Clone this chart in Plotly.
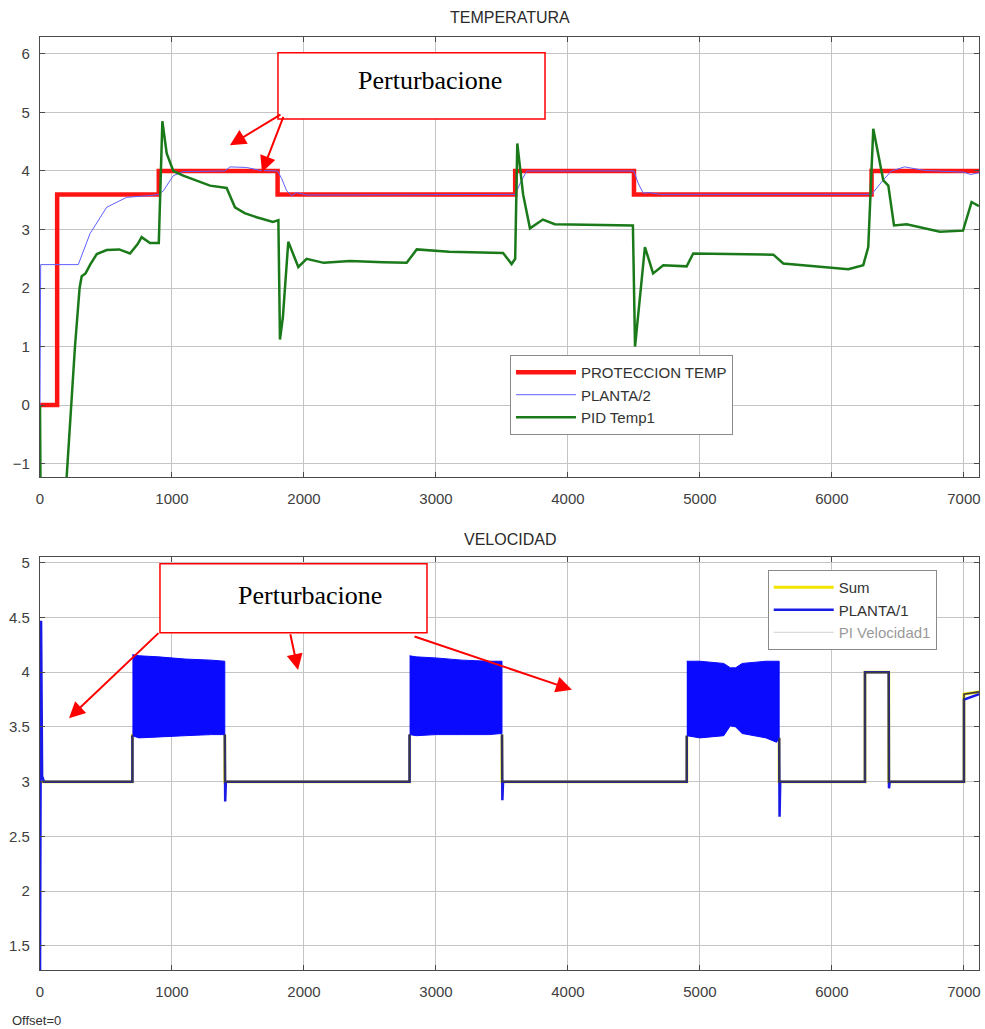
import plotly.graph_objects as go
from plotly.subplots import make_subplots

# ==========================================
# Datos: TEMPERATURA (panel superior)
# ==========================================
prot_t = [0, 130, 900, 1800, 3600, 4500, 6300, 7114]
prot_v = [0, 3.6, 4.0, 3.6, 4.0, 3.6, 4.0, 4.0]

planta2_t = [0, 5, 290, 379, 505, 657, 833, 900, 934, 1010, 1085, 1400, 1440, 1566, 1667, 1800,
             1831, 1869, 1907, 1944, 2020, 3600, 3640, 3687, 4500, 4530, 4570, 4620, 4700,
             6300, 6390, 6450, 6550, 6700, 7000, 7050, 7114]
planta2_v = [0, 2.4, 2.4, 2.93, 3.38, 3.55, 3.58, 3.6, 3.66, 3.92, 3.99, 4.0, 4.07, 4.06, 4.01, 4.0,
             3.87, 3.66, 3.58, 3.63, 3.59, 3.6, 3.8, 4.0, 4.0, 3.8, 3.62, 3.63, 3.6,
             3.6, 3.85, 4.0, 4.07, 4.01, 3.98, 3.94, 3.97]

pid_t = [0, 8, 200, 265, 300, 316, 345, 380, 430, 505, 600, 682, 740, 770, 833, 900, 927, 960,
         1010, 1085, 1288, 1414, 1477, 1550, 1641, 1765, 1806, 1818, 1840, 1881, 1957, 2020,
         2150, 2348, 2600, 2778, 2854, 3100, 3508, 3573, 3600, 3616, 3660, 3712, 3810, 3900,
         4492, 4508, 4583, 4645, 4722, 4899, 4949, 5556, 5631, 5858, 6124, 6237, 6275, 6313,
         6389, 6427, 6470, 6566, 6818, 6993, 7058, 7114]
pid_v = [0, -3.0, -1.3, 1.0, 2.0, 2.2, 2.25, 2.4, 2.58, 2.65, 2.66, 2.59, 2.75, 2.87, 2.77, 2.77, 4.85, 4.3,
         4.0, 3.92, 3.75, 3.71, 3.38, 3.28, 3.21, 3.13, 3.16, 1.12, 1.5, 2.79, 2.36, 2.5,
         2.43, 2.46, 2.44, 2.43, 2.66, 2.62, 2.6, 2.41, 2.5, 4.47, 3.6, 3.02, 3.17, 3.09,
         3.07, 1.0, 2.7, 2.25, 2.39, 2.37, 2.59, 2.57, 2.42, 2.37, 2.32, 2.39, 2.7, 4.72,
         3.84, 3.75, 3.07, 3.09, 2.96, 2.98, 3.47, 3.4]

# ==========================================
# Datos: VELOCIDAD (panel inferior)
# ==========================================
planta1_t = [0, 8, 16, 30, 700, 700, None, 1400, 1403, 1408, 2800, 2800, None, 3500, 3503, 3508,
             4900, 4900, None, 5600, 5603, 5608, 6250, 6250, 6430, 6432, 6438, 7000, 7000, 7114]
planta1_v = [1.2, 4.47, 3.05, 3.0, 3.0, 3.42, None, 3.43, 2.82, 3.0, 3.0, 3.43, None, 3.43, 2.83, 3.0,
             3.0, 3.42, None, 3.4, 2.68, 3.0, 3.0, 4.0, 4.0, 2.94, 3.0, 3.0, 3.75, 3.8]

# envolventes de la oscilacion (banda azul)
band1_t = [700, 750, 900, 1100, 1300, 1400]
band1_hi = [4.16, 4.15, 4.14, 4.12, 4.11, 4.1]
band1_lo = [3.42, 3.40, 3.41, 3.42, 3.43, 3.43]
band2_t = [2800, 2850, 3000, 3200, 3400, 3500]
band2_hi = [4.15, 4.14, 4.13, 4.11, 4.1, 4.1]
band2_lo = [3.43, 3.42, 3.43, 3.43, 3.43, 3.44]
band3_t = [4900, 5000, 5180, 5230, 5270, 5320, 5500, 5580, 5600]
band3_hi = [4.1, 4.1, 4.08, 4.04, 4.04, 4.08, 4.1, 4.1, 4.1]
band3_lo = [3.42, 3.4, 3.42, 3.51, 3.5, 3.44, 3.4, 3.36, 3.4]

pi_t = [0, 700, 700, None, 1400, 1400, 2800, 2800, None, 3500, 3500, 4900, 4900, None,
        5600, 5600, 6250, 6250, 6430, 6430, 7000, 7000, 7114]
pi_v = [3.0, 3.0, 3.43, None, 3.43, 3.0, 3.0, 3.43, None, 3.43, 3.0, 3.0, 3.42, None,
        3.4, 3.0, 3.0, 4.0, 4.0, 3.0, 3.0, 3.8, 3.82]

x_ticks = [0, 1000, 2000, 3000, 4000, 5000, 6000, 7000]
temp_ticks = [-1, 0, 1, 2, 3, 4, 5, 6]
vel_ticks = [1.5, 2, 2.5, 3, 3.5, 4, 4.5, 5]

FONT = "Liberation Sans, Arial, sans-serif"
SERIF = "Liberation Serif, Times New Roman, serif"


def band_polygon():
    xs, ys = [], []
    for t, hi, lo in [(band1_t, band1_hi, band1_lo), (band2_t, band2_hi, band2_lo), (band3_t, band3_hi, band3_lo)]:
        xs += t + t[::-1] + [None]
        ys += hi + lo[::-1] + [None]
    return xs, ys


fig = make_subplots(rows=2, cols=1, vertical_spacing=0.0)
fig.update_layout(yaxis=dict(domain=[0.5284, 1.0]), yaxis2=dict(domain=[0.0, 0.443]))

# --- panel superior
fig.add_trace(go.Scatter(x=prot_t, y=prot_v, mode='lines', line=dict(color='#ff1414', width=4.5, shape='hv'),
                         name='PROTECCION TEMP', legend='legend'), row=1, col=1)
fig.add_trace(go.Scatter(x=planta2_t, y=planta2_v, mode='lines', line=dict(color='#6060ff', width=1),
                         name='PLANTA/2', legend='legend'), row=1, col=1)
fig.add_trace(go.Scatter(x=pid_t, y=pid_v, mode='lines', line=dict(color='#1a7a1a', width=2.5),
                         name='PID Temp1', legend='legend'), row=1, col=1)

# --- panel inferior
fig.add_trace(go.Scatter(x=pi_t, y=pi_v, mode='lines', line=dict(color='#f2e600', width=3),
                         name='Sum', legend='legend2'), row=2, col=1)
bx, by = band_polygon()
fig.add_trace(go.Scatter(x=bx, y=by, mode='lines', fill='toself', fillcolor='#0a0aff',
                         line=dict(color='#0a0aff', width=1), showlegend=False), row=2, col=1)
fig.add_trace(go.Scatter(x=planta1_t, y=planta1_v, mode='lines', line=dict(color='#1a1ae6', width=2.5),
                         name='PLANTA/1', legend='legend2'), row=2, col=1)
fig.add_trace(go.Scatter(x=pi_t, y=pi_v, mode='lines', line=dict(color='#3a3a3a', width=1.6),
                         showlegend=False), row=2, col=1)
fig.add_trace(go.Scatter(x=[None], y=[None], mode='lines', line=dict(color='#a0a0a0', width=1),
                         name='PI Velocidad1', legend='legend2', visible='legendonly'), row=2, col=1)

axis_style = dict(showline=True, linecolor='#4a4a4a', linewidth=1.2, mirror='ticks', ticks='inside',
                  ticklen=5, tickcolor='#4a4a4a', showgrid=True, gridcolor='#c4c4c4', gridwidth=1,
                  zeroline=False, automargin=False, tickfont=dict(family=FONT, size=15, color='#404040'))
fig.update_xaxes(**axis_style, range=[0, 7114], tickvals=x_ticks, ticklabelstandoff=8)
fig.update_yaxes(**axis_style, ticklabelstandoff=6)
fig.update_yaxes(range=[-1.23, 6.29], tickvals=temp_ticks, row=1, col=1)
fig.update_yaxes(range=[1.28, 5.055], tickvals=vel_ticks, row=2, col=1)

# cajas "Perturbacione"
fig.add_shape(type='rect', xref='x', yref='y', x0=1803, x1=3826, y0=4.89, y1=6.02,
              line=dict(color='#ff0000', width=1.5), fillcolor='white', layer='above')
fig.add_shape(type='rect', xref='x2', yref='y2', x0=909, x1=2932, y0=4.36, y1=4.99,
              line=dict(color='#ff0000', width=1.5), fillcolor='white', layer='above')
fig.add_annotation(x=2955, y=5.54, xref='x', yref='y', text='Perturbacione', showarrow=False,
                   font=dict(family=SERIF, size=26, color='black'))
fig.add_annotation(x=2045, y=4.70, xref='x2', yref='y2', text='Perturbacione', showarrow=False,
                   font=dict(family=SERIF, size=26, color='black'))

arrows = [
    ('x', 'y', 1833, 4.98, 1439, 4.44),
    ('x', 'y', 1848, 4.95, 1682, 3.98),
    ('x2', 'y2', 909, 4.37, 220, 3.58),
    ('x2', 'y2', 1894, 4.36, 1955, 4.02),
    ('x2', 'y2', 2826, 4.33, 4030, 3.84),
]
for xr, yr, tx, ty, hx, hy in arrows:
    fig.add_annotation(x=hx, y=hy, ax=tx, ay=ty, xref=xr, yref=yr, axref=xr, ayref=yr, text='',
                       showarrow=True, arrowhead=2, arrowsize=1.6, arrowwidth=2, arrowcolor='#ff0000')

# titulos
fig.add_annotation(x=0.5, y=1.0204, xref='paper', yref='paper', text='TEMPERATURA', showarrow=False,
                   yanchor='middle', font=dict(family=FONT, size=16, color='#2a2a2a'))
fig.add_annotation(x=0.5, y=0.4609, xref='paper', yref='paper', text='VELOCIDAD', showarrow=False,
                   yanchor='middle', font=dict(family=FONT, size=16, color='#2a2a2a'))
fig.add_annotation(x=-0.032, y=-0.0536, xref='paper', yref='paper', text='Offset=0', showarrow=False,
                   xanchor='left', yanchor='middle', font=dict(family=FONT, size=13, color='#333333'))

legend_style = dict(bgcolor='white', bordercolor='#8a8a8a', borderwidth=1, xanchor='left', yanchor='top',
                    font=dict(family=FONT, size=15, color='#333333'), itemwidth=60, tracegroupgap=0)
fig.update_layout(
    width=985, height=1029, plot_bgcolor='white', paper_bgcolor='white',
    margin=dict(l=40, r=6, t=37, b=59),
    legend=dict(**legend_style, x=0.5005, y=0.6592),
    legend2=dict(**legend_style, x=0.775, y=0.4287),
)

# sin margen del <body> para que la figura ocupe la ventana exacta
fig.write_html("out.html", config={'displayModeBar': False},
               post_script="document.body.style.margin='0px';")
